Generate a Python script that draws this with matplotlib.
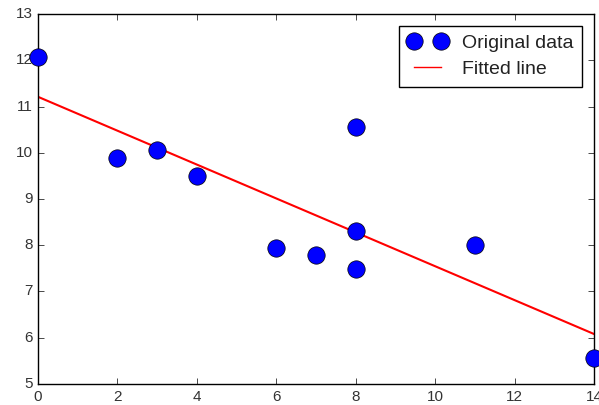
import numpy as np
import matplotlib
matplotlib.use('Agg')
import matplotlib.pyplot as plt

# data
x_data = [0, 2, 3, 4, 6, 7, 8, 8, 8, 11, 14]
y_data = [12.07, 9.89, 10.06, 9.5, 7.94, 7.78, 10.56, 8.31, 7.49, 8.0, 5.56]
slope = -0.3664
intercept = 11.21

x_ticks = [0, 2, 4, 6, 8, 10, 12, 14]
y_ticks = [5, 6, 7, 8, 9, 10, 11, 12, 13]

plt.style.use('classic')
plt.rcParams['font.family'] = ['Liberation Sans', 'DejaVu Sans']

fig = plt.figure(figsize=(5.99, 4.05), dpi=100, facecolor='white')
ax = fig.add_axes([0.0634, 0.0519, 0.9283, 0.9135])

xs = np.array(x_data)
ax.plot(xs, y_data, 'bo', markersize=12.5, markeredgewidth=0.5, label='Original data', clip_on=False, zorder=3)
ax.plot(xs, slope*xs + intercept, 'r-', lw=1.5, label='Fitted line')

ax.set_xlim(0, 14)
ax.set_ylim(5, 13)
ax.set_xticks(x_ticks)
ax.set_yticks(y_ticks)
ax.tick_params(labelsize=11, labelcolor='#333333')

leg = ax.legend(loc='upper right', numpoints=2, fontsize=14, handlelength=2.0,
                handletextpad=0.8, borderpad=0.45, borderaxespad=0.6, labelspacing=0.42)
leg.get_lines()[1].set_linewidth(1.0)
for t in leg.get_texts():
    t.set_color('#222222')

fig.savefig('out.png', dpi=100, facecolor='white')
